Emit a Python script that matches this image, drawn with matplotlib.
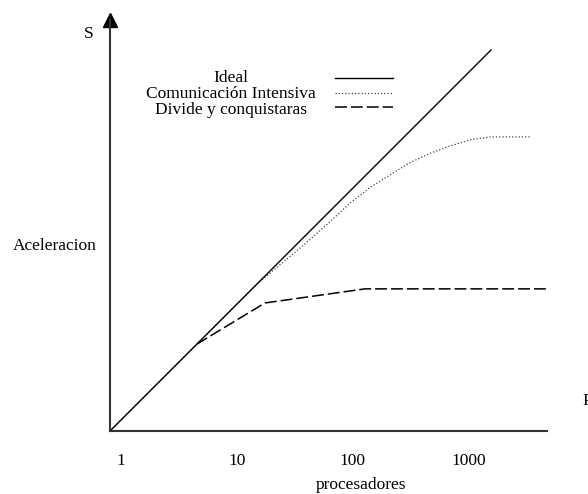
import matplotlib
matplotlib.use("Agg")
import matplotlib.pyplot as plt
from matplotlib.lines import Line2D

# Speed-up curves (log-log): number of processors vs. speed-up
ideal_p = [0.8, 1560]
ideal_s = [0.8, 1560]

comm_p = [0.8, 15, 40, 63, 94, 140, 209, 311, 463, 689, 1026, 1528, 3383]
comm_s = [0.8, 15, 34, 51, 74, 101, 130, 166, 200, 231, 261, 277, 277]

divide_p = [4.5, 17.4, 127, 4745]
divide_s = [4.5, 10.2, 13.5, 13.5]

tick_values = [1, 10, 100, 1000]
tick_labels = ["1", "10", "100", "1000"]

series_names = ["Ideal", "Comunicación Intensiva", "Divide y conquistaras"]

plt.rcParams["font.family"] = ["Liberation Serif", "DejaVu Serif"]
FS = 12.5

fig = plt.figure(figsize=(5.88, 4.94), dpi=100)
W, H = 588, 494
ax = fig.add_axes([110 / W, (H - 431) / H, 437 / W, 411 / H])
ax.set_xscale("log")
ax.set_yscale("log")
ax.set_xlim(0.8, 4746)
ax.set_ylim(0.8, 2832)

dash_style = dict(color="black", linewidth=1.1, linestyle=(0, (7.8, 2.6)))
dot_style = dict(color="#444444", linewidth=0.9, linestyle=(0, (1, 1.6)))
solid_style = dict(color="black", linewidth=1.0)

ax.plot(divide_p, divide_s, **dash_style)
ax.plot(comm_p, comm_s, **dot_style)
ax.plot(ideal_p, ideal_s, **solid_style)

# axes: only left and bottom, arrow on the vertical one
for side in ("top", "right"):
    ax.spines[side].set_visible(False)
for side in ("left", "bottom"):
    ax.spines[side].set_color("#333333")
    ax.spines[side].set_linewidth(1.5)
ax.plot([0], [1], marker="^", markersize=10.5, color="black",
        transform=ax.transAxes, clip_on=False)

ax.set_xticks(tick_values)
ax.set_xticklabels(tick_labels, fontsize=FS)
ax.xaxis.set_minor_locator(matplotlib.ticker.NullLocator())
ax.set_yticks([])
ax.yaxis.set_minor_locator(matplotlib.ticker.NullLocator())
ax.tick_params(axis="x", length=0, pad=15.5)

def px(x, y):
    return x / W, 1 - y / H

fig.text(*px(89, 34), "S", fontsize=FS, ha="center", va="center")
fig.text(*px(582, 401), "P", fontsize=FS, ha="left", va="center")
fig.text(*px(55, 246), "Aceleracion", fontsize=FS, ha="center", va="center")
fig.text(*px(361, 485), "procesadores", fontsize=FS, ha="center", va="center")

# hand-made legend: centered labels, sample lines on the right
legend_rows = [(78, 78, solid_style), (94, 93, dot_style), (110, 107, dash_style)]
for name, (ytext, yline, style) in zip(series_names, legend_rows):
    fig.text(*px(231, ytext), name, fontsize=FS, ha="center", va="center")
    x0, y0 = px(335, yline)
    x1, _ = px(393, yline)
    fig.add_artist(Line2D([x0, x1], [y0, y0], transform=fig.transFigure, **style))

fig.savefig("out.png", dpi=100)
